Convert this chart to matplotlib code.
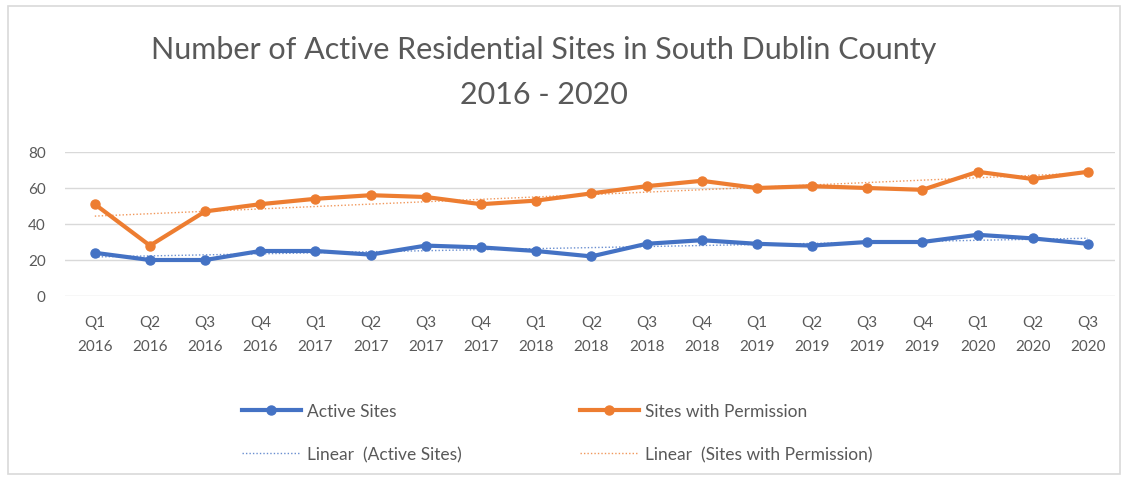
import numpy as np
import matplotlib
matplotlib.use("Agg")
import matplotlib.pyplot as plt
from matplotlib.patches import Rectangle

# data
quarters = ["Q1", "Q2", "Q3", "Q4"] * 4 + ["Q1", "Q2", "Q3"]
years = ["2016"] * 4 + ["2017"] * 4 + ["2018"] * 4 + ["2019"] * 4 + ["2020"] * 3
active_sites = [24, 20, 20, 25, 25, 23, 28, 27, 25, 22, 29, 31, 29, 28, 30, 30, 34, 32, 29]
sites_permission = [51, 28, 47, 51, 54, 56, 55, 51, 53, 57, 61, 64, 60, 61, 60, 59, 69, 65, 69]

blue = "#4472C4"
orange = "#ED7D31"
grey = "#595959"

plt.rcParams['font.family'] = ['Lato', 'DejaVu Sans']

fig = plt.figure(figsize=(11.29, 4.81), dpi=100)
fig.patches.append(Rectangle((8 / 1129, 6 / 481), 1112 / 1129, 468 / 481,
                             transform=fig.transFigure, fill=False,
                             edgecolor="#d9d9d9", linewidth=1.2))

ax = fig.add_axes([65 / 1129, 1 - 297 / 481, 1050 / 1129, 144 / 481])
x = np.arange(len(active_sites))

# linear trends
fa = np.polyfit(x, active_sites, 1)
fp = np.polyfit(x, sites_permission, 1)

l1, = ax.plot(x, active_sites, color=blue, lw=3, marker="o", ms=6.5, zorder=3)
l2, = ax.plot(x, sites_permission, color=orange, lw=3, marker="o", ms=6.5, zorder=3)
l3, = ax.plot(x, np.polyval(fa, x), color=blue, lw=1, ls=(0, (1, 1.5)), alpha=0.8, zorder=4)
l4, = ax.plot(x, np.polyval(fp, x), color=orange, lw=1, ls=(0, (1, 1.5)), alpha=0.8, zorder=4)

ax.set_ylim(0, 80)
ax.set_yticks([0, 20, 40, 60, 80])
ax.set_xlim(-0.54, len(x) - 1 + 0.49)
ax.set_xticks(x)
ax.set_xticklabels([q + "\n" + y for q, y in zip(quarters, years)], linespacing=1.9)
ax.tick_params(axis="both", length=0, colors=grey, labelsize=11)
ax.tick_params(axis="x", pad=14)
ax.tick_params(axis="y", pad=14)
ax.grid(axis="y", color="#d9d9d9", lw=1)
ax.set_axisbelow(True)
for s in ax.spines.values():
    s.set_visible(False)

fig.text(544 / 1129, 1 - 50 / 481, "Number of Active Residential Sites in South Dublin County",
         ha="center", va="center", fontsize=22, color=grey)
fig.text(544 / 1129, 1 - 95 / 481, "2016 - 2020",
         ha="center", va="center", fontsize=22, color=grey)

fig.legend([l1, l3, l2, l4],
           ["Active Sites", "Linear  (Active Sites)", "Sites with Permission", "Linear  (Sites with Permission)"],
           loc="upper left", bbox_to_anchor=(226 / 1129, 1 - 388 / 481), ncol=2,
           frameon=False, fontsize=12.5, labelcolor=grey, handlelength=3.4,
           handletextpad=0.35, columnspacing=6.8, labelspacing=1.6)

fig.savefig("out.png", dpi=100)
